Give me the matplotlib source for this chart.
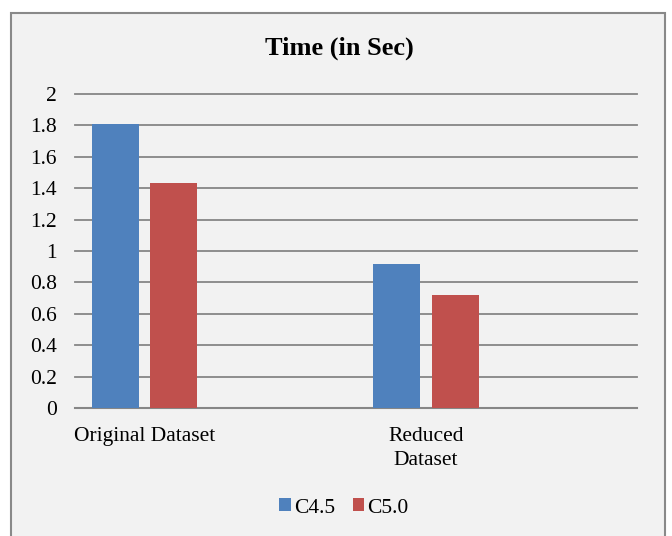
import matplotlib
matplotlib.use("Agg")
import matplotlib.pyplot as plt
from matplotlib.patches import Rectangle
import numpy as np

categories = ["Original Dataset", "Reduced\nDataset"]
series_names = ["C4.5", "C5.0"]
c45 = [1.81, 0.92]
c50 = [1.43, 0.72]
yticks = [0, 0.2, 0.4, 0.6, 0.8, 1, 1.2, 1.4, 1.6, 1.8, 2]
ytick_labels = ["0", "0.2", "0.4", "0.6", "0.8", "1", "1.2", "1.4", "1.6", "1.8", "2"]
title = "Time (in Sec)"
colors = ["#4F81BD", "#C0504D"]

plt.rcParams['font.family'] = ['Liberation Serif', 'DejaVu Serif']

W, H = 672, 536
fig = plt.figure(figsize=(W / 100, H / 100), dpi=100)
fig.patch.set_facecolor("white")

# outer chart frame
fig.patches.append(Rectangle((11 / W, -0.05), (665 - 11) / W, 1.05 - 13 / H,
                             transform=fig.transFigure, facecolor="#F2F2F2",
                             edgecolor="#898989", linewidth=1.5, zorder=-10))

ax = fig.add_axes([75 / W, 1 - 408 / H, (637 - 75) / W, (408 - 94) / H])
ax.set_facecolor("none")
ax.set_zorder(1)

x = np.arange(len(categories))
bw = 0.167
off = 0.104
ax.bar(x - off, c45, bw, color=colors[0], label=series_names[0], zorder=3)
ax.bar(x + off, c50, bw, color=colors[1], label=series_names[1], zorder=3)

ax.set_xlim(-0.247, 1.75)
ax.set_ylim(0, 2)
ax.set_yticks(yticks)
ax.set_yticklabels(ytick_labels, fontsize=15.5)
ax.set_xticks(x)
ax.set_xticklabels(categories, fontsize=15.5, linespacing=1.34, va="top")
ax.tick_params(axis="both", length=0)
ax.tick_params(axis="y", pad=13)
ax.tick_params(axis="x", pad=14)
ax.grid(axis="y", color="#868686", linewidth=1.3, zorder=0)
for gl in ax.get_ygridlines():
    gl.set_clip_on(False)
for s in ["top", "right", "left"]:
    ax.spines[s].set_visible(False)
ax.spines["bottom"].set_color("#868686")
ax.spines["bottom"].set_linewidth(1.5)

fig.text(339 / W, 1 - 48 / H, title, ha="center", va="center",
         fontsize=19, fontweight="bold")

fig.legend(loc="center", bbox_to_anchor=(344 / W, 1 - 508 / H), ncol=2,
           frameon=False, fontsize=15.5, handlelength=0.55, handleheight=0.55,
           handletextpad=0.15, columnspacing=0.8)

fig.savefig("out.png", dpi=100)
